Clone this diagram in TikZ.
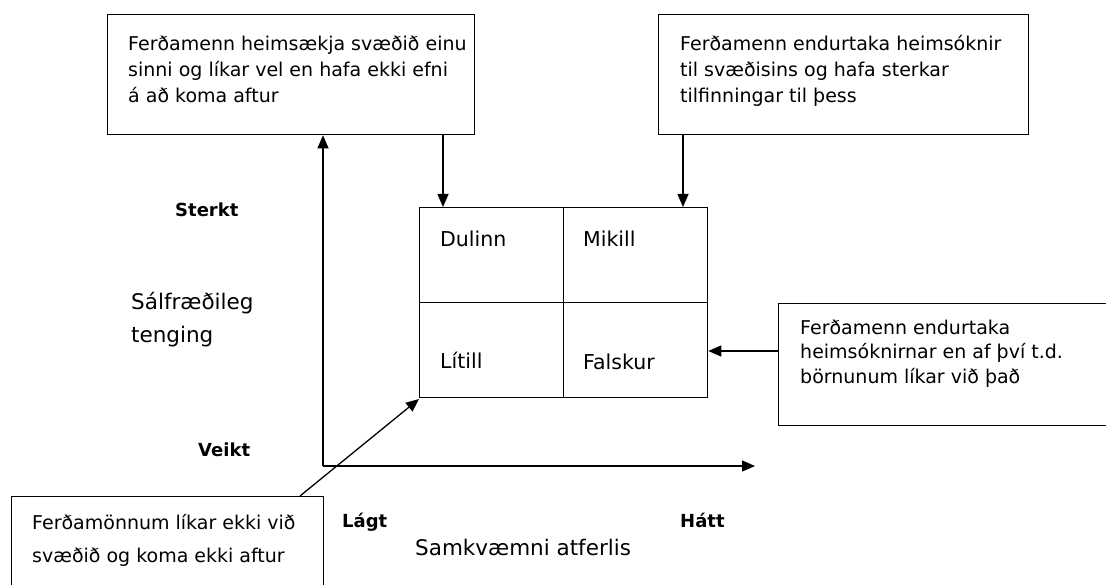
\documentclass[tikz,border=0pt]{standalone}
\usepackage{fontspec}
\setmainfont{DejaVu Sans}
\usetikzlibrary{arrows.meta,calc}
\tikzset{
  box/.style={draw, line width=1.3pt, inner sep=0pt, anchor=north west},
  txt/.style={inner sep=0pt, anchor=base west, font=\fontsize{19}{22}\selectfont},
  bigtxt/.style={inner sep=0pt, anchor=base west, font=\fontsize{21.5}{24}\selectfont},
  cell/.style={inner sep=0pt, anchor=base west, font=\fontsize{20.5}{22}\selectfont},
  blbl/.style={inner sep=0pt, anchor=base west, font=\fontsize{18}{20}\selectfont\bfseries},
  arr/.style={line width=1.3pt, -{Triangle[length=13pt,width=11pt]}},
  ln/.style={line width=1.3pt}
}
\begin{document}
\begin{tikzpicture}[x=1pt,y=-1pt]
\useasboundingbox (0,0) rectangle (1106,585);
% boxes
\node[box, minimum width=367pt, minimum height=120pt] (tl) at (107,14) {};
\node[box, minimum width=370pt, minimum height=120pt] (tr) at (658,14) {};
\node[box, minimum width=345pt, minimum height=122pt] (rb) at (778,303) {};
\node[box, minimum width=312pt, minimum height=110pt] (bl) at (11,496) {};
% grid
\node[box, minimum width=288pt, minimum height=190pt] (grid) at (419,207) {};
\draw[ln] (grid.north) -- (grid.south);
\draw[ln] (grid.west) -- (grid.east);
% box texts
\node[txt] (tl1) at (128,51) {Ferðamenn heimsækja svæðið einu};
\node[txt] (tl2) at (128,77) {sinni og líkar vel en hafa ekki efni};
\node[txt] (tl3) at (128,103) {á að koma aftur};
\node[txt] (tr1) at (680,51) {Ferðamenn endurtaka heimsóknir};
\node[txt] (tr2) at (680,77) {til svæðisins og hafa sterkar};
\node[txt] (tr3) at (680,103) {tilfinningar til þess};
\node[txt] (rb1) at (800,335) {Ferðamenn endurtaka};
\node[txt] (rb2) at (800,359) {heimsóknirnar en af því t.d.};
\node[txt] (rb3) at (800,383) {börnunum líkar við það};
\node[txt] (bl1) at (32,529) {Ferðamönnum líkar ekki við};
\node[txt] (bl2) at (32,562) {svæðið og koma ekki aftur};
% cell texts
\node[cell] (c1) at (440,247) {Dulinn};
\node[cell] (c2) at (583,247) {Mikill};
\node[cell] (c3) at (440,369) {Lítill};
\node[cell] (c4) at (583,370) {Falskur};
% axis labels
\node[blbl] (st) at (175,217) {Sterkt};
\node[blbl] (vk) at (198,456) {Veikt};
\node[blbl] (lg) at (342,527) {Lágt};
\node[blbl] (ht) at (680,527) {Hátt};
\node[bigtxt] (sf1) at (131,310) {Sálfræðileg};
\node[bigtxt] (sf2) at (131,342) {tenging};
\node[bigtxt] (sa) at (415,555) {Samkvæmni atferlis};
% axes
\coordinate (O) at (323,466);
\coordinate (xend) at (755,466);
\draw[arr] (O) -- (xend);
\draw[arr] (O) -- (O |- tl.south);
% arrow anchor points
\coordinate (g1) at (443,207);
\coordinate (g2) at (683,207);
\coordinate (r1) at (778,351);
\coordinate (b1) at (300,496);
\coordinate (g3) at (419,399);
% arrows
\draw[arr] (g1 |- tl.south) -- (g1);
\draw[arr] (g2 |- tr.south) -- (g2);
\draw[arr] (r1) -- (r1 -| grid.east);
\draw[arr] (b1) -- (g3);
\end{tikzpicture}
\end{document}
